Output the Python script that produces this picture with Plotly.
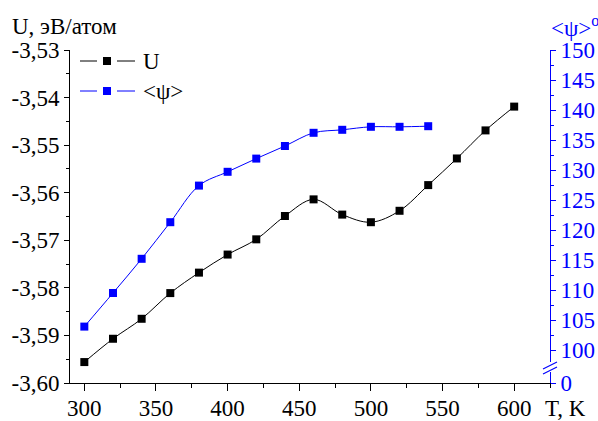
import plotly.graph_objects as go

# ---- data ----
T_U = [300, 320, 340, 360, 380, 400, 420, 440, 460, 480, 500, 520, 540, 560, 580, 600]
U = [-3.5956, -3.5907, -3.5865, -3.5811, -3.5768, -3.5730, -3.5698, -3.5649,
     -3.5614, -3.5646, -3.5662, -3.5638, -3.5584, -3.5528, -3.5469, -3.5419]
T_psi = [300, 320, 340, 360, 380, 400, 420, 440, 460, 480, 500, 520, 540]
psi = [103.9, 109.5, 115.2, 121.3, 127.4, 129.7, 131.9, 134.0, 136.2, 136.7, 137.2, 137.2, 137.3]

x_ticks = [300, 350, 400, 450, 500, 550, 600]
u_ticks = [-3.60, -3.59, -3.58, -3.57, -3.56, -3.55, -3.54, -3.53]
u_ticktext = ["-3,60", "-3,59", "-3,58", "-3,57", "-3,56", "-3,55", "-3,54", "-3,53"]
psi_ticks = [100, 105, 110, 115, 120, 125, 130, 135, 140, 145, 150]
psi_zero_pos = 94.5  # position where the broken axis shows "0"

BLUE = "#0000ff"
FONT = "Liberation Serif, Times New Roman, serif"
FS = 23

# plot area in pixels
L, R, T, B = 70, 550, 50, 383
W, H = 598, 421


def px(xp, yp):
    return (xp - L) / (R - L), (B - yp) / (B - T)


fig = go.Figure()
fig.add_trace(go.Scatter(x=T_U, y=U, mode="lines+markers", name="U",
                         line=dict(color="black", width=1, shape="spline"),
                         marker=dict(symbol="square", size=8, color="black"),
                         showlegend=False))
fig.add_trace(go.Scatter(x=T_psi, y=psi, mode="lines+markers", name="<ψ>",
                         yaxis="y2",
                         line=dict(color=BLUE, width=1, shape="spline"),
                         marker=dict(symbol="square", size=8, color=BLUE),
                         showlegend=False))

shapes = []
annotations = []

# custom legend
for row_y, col, label in [(61, "black", "U"), (91, BLUE, "&lt;ψ&gt;")]:
    for x0, x1 in [(80, 97), (117, 135)]:
        a = px(x0, row_y); b = px(x1, row_y)
        shapes.append(dict(type="line", xref="paper", yref="paper",
                           x0=a[0], y0=a[1], x1=b[0], y1=b[1],
                           line=dict(color=col, width=1)))
    a = px(103, row_y - 4); b = px(111, row_y + 4)
    shapes.append(dict(type="rect", xref="paper", yref="paper",
                       x0=a[0], y0=a[1], x1=b[0], y1=b[1],
                       fillcolor=col, line=dict(width=0)))
    p = px(141, row_y)
    annotations.append(dict(xref="paper", yref="paper", x=p[0], y=p[1],
                            xanchor="left", yanchor="middle", showarrow=False,
                            text=label, font=dict(family=FONT, size=FS, color="black")))

# axis break on the right axis
g0 = px(548, 362); g1 = px(552, 372)
shapes.append(dict(type="rect", xref="paper", yref="paper",
                   x0=g0[0], y0=g0[1], x1=g1[0], y1=g1[1],
                   fillcolor="white", line=dict(width=0), layer="above"))
for dy in (0, 5):
    a = px(543, 369 + dy); b = px(557, 362 + dy)
    shapes.append(dict(type="line", xref="paper", yref="paper",
                       x0=a[0], y0=a[1], x1=b[0], y1=b[1],
                       line=dict(color=BLUE, width=1.2), layer="above"))

# titles
p = px(10, 27)
annotations.append(dict(xref="paper", yref="paper", x=p[0], y=p[1],
                        xanchor="left", yanchor="middle", showarrow=False,
                        text="U, эВ/атом", font=dict(family=FONT, size=FS, color="black")))
p = px(549, 27)
annotations.append(dict(xref="paper", yref="paper", x=p[0], y=p[1],
                        xanchor="left", yanchor="middle", showarrow=False,
                        text="&lt;ψ&gt;<sup>o</sup>", font=dict(family=FONT, size=FS, color=BLUE)))
p = px(543, 408)
annotations.append(dict(xref="paper", yref="paper", x=p[0], y=p[1],
                        xanchor="left", yanchor="middle", showarrow=False,
                        text="T, K", font=dict(family=FONT, size=FS, color="black")))

fig.update_layout(
    width=W, height=H,
    margin=dict(l=L, r=W - R, t=T, b=H - B, pad=0, autoexpand=False),
    paper_bgcolor="white", plot_bgcolor="white",
    font=dict(family=FONT, size=FS, color="black"),
    shapes=shapes, annotations=annotations,
    xaxis=dict(range=[290, 625], tickvals=x_ticks, showgrid=False, zeroline=False,
               automargin=False, ticklabelstandoff=-3,
               showline=True, linecolor="black", linewidth=1,
               ticks="outside", ticklen=7, tickwidth=1, tickcolor="black",
               minor=dict(dtick=25, tick0=300, ticks="outside", ticklen=4,
                          tickcolor="black", showgrid=False),
               tickfont=dict(family=FONT, size=FS)),
    yaxis=dict(range=[-3.60, -3.53], tickvals=u_ticks, ticktext=u_ticktext,
               showgrid=False, zeroline=False, automargin=False,
               showline=True, linecolor="black", linewidth=1,
               ticks="outside", ticklen=5, tickwidth=1, tickcolor="black",
               minor=dict(dtick=0.005, tick0=-3.6, ticks="outside", ticklen=3,
                          tickcolor="black", showgrid=False),
               tickfont=dict(family=FONT, size=FS)),
    yaxis2=dict(overlaying="y", side="right", anchor="x",
                range=[psi_zero_pos, 150], automargin=False,
                tickvals=[psi_zero_pos] + psi_ticks,
                ticktext=["0"] + [str(v) for v in psi_ticks],
                showgrid=False, zeroline=False,
                showline=True, linecolor=BLUE, linewidth=1,
                ticks="outside", ticklen=5, tickwidth=1, tickcolor=BLUE,
                minor=dict(tickvals=[v + 2.5 for v in psi_ticks[:-1]], ticks="outside",
                           ticklen=3, tickcolor=BLUE, showgrid=False),
                tickfont=dict(family=FONT, size=FS, color=BLUE)),
)

fig.write_html("out.html", config={"displayModeBar": False},
               post_script="document.body.style.margin='0px';document.body.style.overflow='hidden';")
